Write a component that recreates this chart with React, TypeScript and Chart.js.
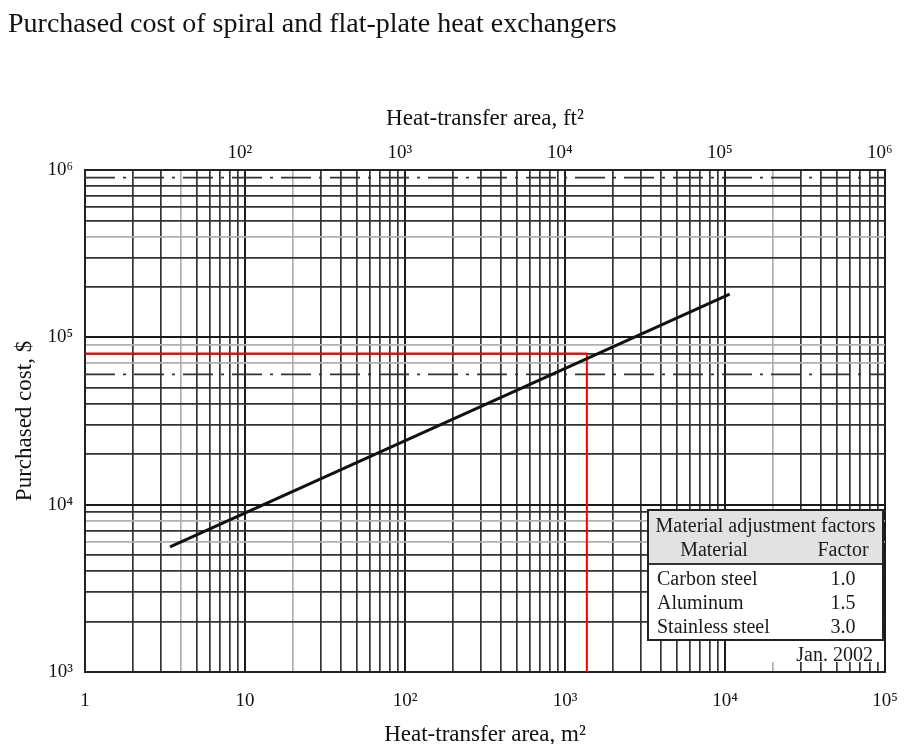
import React, { useEffect, useRef } from "react";
import { Chart, registerables } from "chart.js";

Chart.register(...registerables);

const SERIF = "'Liberation Serif', 'DejaVu Serif', serif";

const chartTitle = "Purchased cost of spiral and flat-plate heat exchangers";
const xTitleBottom = "Heat-transfer area, m²";
const xTitleTop = "Heat-transfer area, ft²";
const yTitle = "Purchased cost, $";

// cost correlation line
const areaM2 = [3.4, 10700];
const costUSD = [5600, 181000];

// red read-off marker
const markerArea = 1370;
const markerCost = 80000;

const bottomTicks = [1, 10, 100, 1000, 10000, 100000];
const bottomLabels = ["1", "10", "10²", "10³", "10⁴", "10⁵"];
const topTicks = [100, 1000, 10000, 100000, 1000000];
const topLabels = ["10²", "10³", "10⁴", "10⁵", "10⁶"];
const leftTicks = [1000, 10000, 100000, 1000000];
const leftLabels = ["10³", "10⁴", "10⁵", "10⁶"];
const M2_TO_FT2 = 10.7639;

const dashedCostLevels = [60000, 900000];
const faintX = [4, 20, 20000];
const faintY = [400000, 90000, 70000, 8000, 6000];

const tableTitle = "Material adjustment factors";
const tableHeads = ["Material", "Factor"];
const materials = ["Carbon steel", "Aluminum", "Stainless steel"];
const factors = ["1.0", "1.5", "3.0"];
const dateNote = "Jan. 2002";

function logGrid(min: number, max: number) {
  const out: number[] = [];
  for (let d = min; d < max; d *= 10) {
    for (let m = 1; m <= 9; m++) out.push(Math.round(d * m));
  }
  out.push(max);
  return out;
}

const near = (a: number, b: number) => Math.abs(a - b) / b < 1e-6;

function gridColor(faint: number[], hidden: number[], majors: number[]) {
  return (ctx: any) => {
    const v = ctx.tick ? ctx.tick.value : null;
    if (v == null) return "#333";
    if (hidden.some((h) => near(v, h))) return "rgba(0,0,0,0)";
    if (faint.some((f) => near(v, f))) return "#b0b0b0";
    if (majors.some((m) => near(v, m))) return "#1a1a1a";
    return "#333333";
  };
}
function gridWidth(majors: number[]) {
  return (ctx: any) => {
    const v = ctx.tick ? ctx.tick.value : null;
    if (v != null && majors.some((m) => near(v, m))) return 2;
    return 1.7;
  };
}

function labelFrom(values: number[], labels: string[]) {
  return (value: any) => {
    const i = values.findIndex((t) => near(Number(value), t));
    return i >= 0 ? labels[i] : "";
  };
}

export default function App() {
  const ref = useRef<HTMLCanvasElement | null>(null);

  useEffect(() => {
    if (!ref.current) return;
    const tickFont = { family: SERIF, size: 19 };
    const titleFont = { family: SERIF, size: 23, lineHeight: 1.2 };

    const datasets: any[] = [
      {
        data: areaM2.map((a, i) => ({ x: a, y: costUSD[i] })),
        borderColor: "#111",
        borderWidth: 3,
        pointRadius: 0,
        xAxisID: "x",
        yAxisID: "y",
        order: 0,
      },
      {
        data: [
          { x: bottomTicks[0], y: markerCost },
          { x: markerArea, y: markerCost },
        ],
        borderColor: "#ff0000",
        borderWidth: 2,
        pointRadius: 0,
        xAxisID: "x",
        yAxisID: "y",
        order: 1,
      },
      {
        data: [
          { x: markerArea, y: leftTicks[0] },
          { x: markerArea, y: markerCost },
        ],
        borderColor: "#ff0000",
        borderWidth: 2,
        pointRadius: 0,
        xAxisID: "x",
        yAxisID: "y",
        order: 1,
      },
      ...dashedCostLevels.map((lvl) => ({
        data: [
          { x: bottomTicks[0], y: lvl },
          { x: bottomTicks[bottomTicks.length - 1], y: lvl },
        ],
        borderColor: "#333",
        borderWidth: 1.8,
        borderDash: [30, 8, 3, 8],
        pointRadius: 0,
        xAxisID: "x",
        yAxisID: "y",
        order: 2,
      })),
    ];

    const xGrid = logGrid(1, 100000);
    const yGrid = logGrid(1000, 1000000);

    const chart = new Chart(ref.current, {
      type: "line",
      data: { datasets },
      options: {
        responsive: false,
        animation: false,
        maintainAspectRatio: false,
        layout: { padding: { left: 8, right: 20, top: 0, bottom: 0 } },
        elements: { line: { tension: 0 }, point: { radius: 0 } },
        plugins: {
          legend: { display: false },
          tooltip: { enabled: false },
          title: {
            display: true,
            text: chartTitle,
            align: "start",
            color: "#111",
            font: { family: SERIF, size: 28, weight: "normal", lineHeight: 1.2 },
            padding: { top: 8, bottom: 0 },
          },
        },
        scales: {
          x: {
            type: "logarithmic",
            position: "bottom",
            min: 1,
            max: 100000,
            afterBuildTicks: (s: any) => {
              s.ticks = xGrid.map((v) => ({ value: v }));
            },
            afterFit: (s: any) => {
              s.height = 72;
              s.paddingLeft = 0;
              s.paddingRight = 0;
            },
            ticks: {
              autoSkip: false,
              maxRotation: 0,
              padding: 18,
              color: "#111",
              font: tickFont,
              callback: labelFrom(bottomTicks, bottomLabels),
            },
            grid: {
              drawTicks: false,
              color: gridColor(faintX, [], bottomTicks),
              lineWidth: gridWidth(bottomTicks),
            },
            border: { display: true, color: "#222", width: 2 },
            title: {
              display: true,
              text: xTitleBottom,
              color: "#111",
              font: titleFont,
              padding: { top: 0, bottom: -5 },
            },
          },
          x2: {
            type: "logarithmic",
            position: "top",
            min: 1 * M2_TO_FT2,
            max: 100000 * M2_TO_FT2,
            afterBuildTicks: (s: any) => {
              s.ticks = topTicks.map((v) => ({ value: v }));
            },
            afterFit: (s: any) => {
              s.height = 128.4;
              s.paddingLeft = 0;
              s.paddingRight = 0;
            },
            ticks: {
              autoSkip: false,
              maxRotation: 0,
              padding: 6,
              color: "#111",
              font: tickFont,
              callback: labelFrom(topTicks, topLabels),
            },
            grid: { drawOnChartArea: false, drawTicks: false },
            border: { display: true, color: "#222", width: 2 },
            title: {
              display: true,
              text: xTitleTop,
              color: "#111",
              font: titleFont,
              padding: { top: 64, bottom: 0 },
            },
          },
          y: {
            type: "logarithmic",
            position: "left",
            min: 1000,
            max: 1000000,
            afterBuildTicks: (s: any) => {
              s.ticks = yGrid.map((v) => ({ value: v }));
            },
            afterFit: (s: any) => {
              s.width = 77;
            },
            ticks: {
              autoSkip: false,
              padding: 12,
              color: "#111",
              font: tickFont,
              callback: labelFrom(leftTicks, leftLabels),
            },
            grid: {
              drawTicks: false,
              color: gridColor(faintY, dashedCostLevels, leftTicks),
              lineWidth: gridWidth(leftTicks),
            },
            border: { display: true, color: "#222", width: 2 },
            title: {
              display: true,
              text: yTitle,
              color: "#111",
              font: titleFont,
              padding: { top: 3, bottom: 0 },
            },
          },
        },
      } as any,
    });
    return () => chart.destroy();
  }, []);

  const txt: React.CSSProperties = {
    position: "absolute",
    fontFamily: SERIF,
    fontSize: 20,
    lineHeight: "22px",
    color: "#1a1a1a",
    whiteSpace: "nowrap",
  };

  return (
    <div
      style={{
        position: "fixed",
        left: 0,
        top: 0,
        width: 905,
        height: 744,
        background: "#fff",
        overflow: "hidden",
      }}
    >
      <canvas
        ref={ref}
        width={905}
        height={744}
        style={{ position: "absolute", left: 0, top: 0, width: 905, height: 744 }}
      />
      {/* white patch behind date note */}
      <div
        style={{
          position: "absolute",
          left: 742,
          top: 641,
          width: 141,
          height: 21,
          background: "#fff",
        }}
      >
        <span style={{ ...txt, right: 10, top: 2 }}>{dateNote}</span>
      </div>
      {/* material adjustment table */}
      <div
        style={{
          position: "absolute",
          left: 647,
          top: 509,
          width: 237,
          height: 132,
          boxSizing: "border-box",
          border: "2px solid #222",
          background: "#fff",
        }}
      >
        <div
          style={{
            position: "absolute",
            left: 0,
            top: 0,
            right: 0,
            height: 54,
            boxSizing: "border-box",
            background: "#e2e2e2",
            borderBottom: "2px solid #333",
          }}
        />
        <span style={{ ...txt, left: 0, width: "100%", textAlign: "center", top: 3 }}>
          {tableTitle}
        </span>
        <span style={{ ...txt, left: 0, width: 130, textAlign: "center", top: 27 }}>
          {tableHeads[0]}
        </span>
        <span style={{ ...txt, left: 164, width: 60, textAlign: "center", top: 27 }}>
          {tableHeads[1]}
        </span>
        {materials.map((m, i) => (
          <React.Fragment key={m}>
            <span style={{ ...txt, left: 8, top: 56 + i * 24 }}>{m}</span>
            <span style={{ ...txt, left: 164, width: 60, textAlign: "center", top: 56 + i * 24 }}>
              {factors[i]}
            </span>
          </React.Fragment>
        ))}
      </div>
    </div>
  );
}
